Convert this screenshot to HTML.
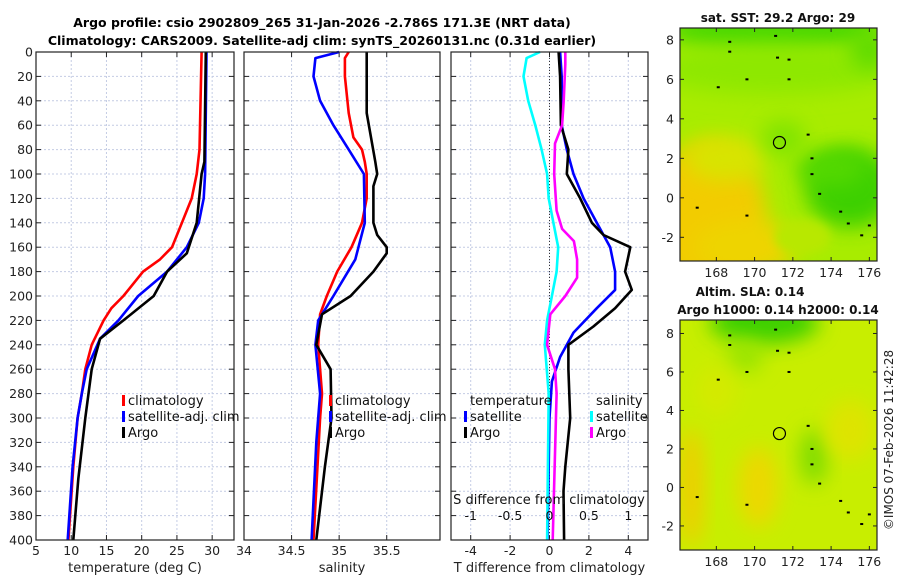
<!DOCTYPE html>
<html><head><meta charset="utf-8">
<style>
html,body{margin:0;padding:0;background:#fff;}
svg{display:block;font-family:"DejaVu Sans","Liberation Sans",sans-serif;}
</style></head>
<body>
<svg id="fig" width="900" height="580" viewBox="0 0 900 580" xmlns="http://www.w3.org/2000/svg">
<defs>
<filter id="blur8" x="-50%" y="-50%" width="200%" height="200%"><feGaussianBlur stdDeviation="10"/></filter>
<filter id="blur4" x="-50%" y="-50%" width="200%" height="200%"><feGaussianBlur stdDeviation="5"/></filter>
<clipPath id="clipA"><rect x="680" y="28" width="197" height="233"/></clipPath>
<clipPath id="clipB"><rect x="680" y="320" width="197" height="230"/></clipPath>
</defs>
<text x="322" y="27" text-anchor="middle" font-size="12.5" font-weight="bold">Argo profile: csio 2902809_265 31-Jan-2026 -2.786S 171.3E (NRT data)</text>
<text x="322" y="45" text-anchor="middle" font-size="12.5" font-weight="bold">Climatology: CARS2009. Satellite-adj clim: synTS_20260131.nc (0.31d earlier)</text>
<g id="plots"></g>
<g id="maps"></g>
<text transform="translate(893,440) rotate(-90)" text-anchor="middle" font-size="12" fill="#222">©IMOS 07-Feb-2026 11:42:28</text>
</svg>
<script>
// ---- data ----
const tClimD=[0,80,100,120,140,160,170,180,200,210,220,240,260,280,300,340,400];
const tClimV=[28.5,28.2,27.8,27.1,25.7,24.3,22.6,20.2,17.4,15.7,14.6,12.9,12.0,11.5,10.9,10.3,9.6];
const tSatD=[0,100,120,140,160,180,200,220,235,260,280,300,340,400];
const tSatV=[29.2,29.0,28.8,28.1,26.4,23.6,19.5,16.7,14.1,12.2,11.5,10.9,10.2,9.5];
const tArgoD=[0,90,100,140,165,180,200,220,235,260,300,350,400];
const tArgoV=[29.1,28.9,28.5,27.8,26.4,23.6,21.7,17.4,14.1,12.9,12.0,11.0,10.3];
const sClimD=[0,5,20,50,70,80,90,100,120,140,160,180,200,215,240,280,300,400];
const sClimV=[35.10,35.06,35.06,35.10,35.15,35.24,35.27,35.29,35.29,35.24,35.13,34.98,34.87,34.80,34.78,34.82,34.80,34.73];
const sSatD=[0,5,20,40,60,80,100,140,170,200,220,240,280,320,400];
const sSatV=[35.00,34.75,34.73,34.80,34.94,35.10,35.26,35.27,35.17,34.94,34.78,34.75,34.80,34.76,34.71];
const sArgoD=[0,50,90,100,110,140,150,160,165,180,200,215,240,260,300,340,400];
const sArgoV=[35.29,35.29,35.38,35.40,35.36,35.36,35.40,35.50,35.50,35.36,35.12,34.82,34.76,34.91,34.92,34.85,34.76];
const dTsatD=[0,20,60,80,100,120,140,160,180,195,210,230,250,270,300,400];
const dTsatV=[0.54,0.62,0.62,0.88,1.22,1.73,2.4,3.08,3.33,3.33,2.4,1.22,0.54,0.12,0,-0.1];
const dTargoD=[0,20,60,80,100,120,140,150,160,180,195,210,225,240,260,300,340,360,400];
const dTargoV=[0.46,0.54,0.58,0.96,0.88,1.56,2.15,2.74,4.1,3.84,4.18,3.33,2.23,0.96,0.96,1.05,0.8,0.71,0.74];
const dSsatD=[0,5,20,40,60,80,100,120,140,160,180,200,220,240,280,400];
const dSsatV=[-0.12,-0.29,-0.33,-0.27,-0.18,-0.1,-0.03,-0.01,0.05,0.11,0.09,0.03,-0.03,-0.06,-0.01,-0.03];
const dSargoD=[0,10,40,60,75,100,130,145,155,170,185,200,215,240,260,280,400];
const dSargoV=[0.2,0.2,0.18,0.16,0.07,0.06,0.09,0.16,0.31,0.35,0.35,0.2,0.01,-0.03,0.07,0.09,0.04];
const depthTicks=[0,20,40,60,80,100,120,140,160,180,200,220,240,260,280,300,320,340,360,380,400];
const tTicks=[5,10,15,20,25,30];
const sTicks=[34,34.5,35,35.5];
const dTTicks=[-4,-2,0,2,4];
const dSTicks=[-1,-0.5,0,0.5,1];
const lonTicks=[168,170,172,174,176];
const latTicks=[-2,0,2,4,6,8];

const NS='http://www.w3.org/2000/svg';
function mk(tag,attrs,parent,txt){const e=document.createElementNS(NS,tag);for(const k in attrs)e.setAttribute(k,attrs[k]);if(txt!==undefined)e.textContent=txt;parent.appendChild(e);return e;}
const plots=document.getElementById('plots');
const Y0=52,Y1=540;
function yD(d){return Y0+(d/400)*(Y1-Y0);}

function panel(name,x0,x1,xmin,xmax,ticks,labelFmt,xlabel,showY){
  const g=mk('g',{},plots);
  
  
  const xs=v=>x0+(v-xmin)/(xmax-xmin)*(x1-x0);
  depthTicks.forEach(d=>{mk('line',{x1:x0,x2:x1,y1:yD(d),y2:yD(d),stroke:'#c4cce4','stroke-width':1,'stroke-dasharray':'2,2'},g);});
  ticks.forEach(t=>{mk('line',{x1:xs(t),x2:xs(t),y1:Y0,y2:Y1,stroke:'#c4cce4','stroke-width':1,'stroke-dasharray':'2,2'},g);});
  depthTicks.forEach(d=>{mk('line',{x1:x0,x2:x0+5,y1:yD(d),y2:yD(d),stroke:'#222'},g);mk('line',{x1:x1-5,x2:x1,y1:yD(d),y2:yD(d),stroke:'#222'},g);
    if(showY){const t=mk('text',{x:x0-3,y:yD(d)+4.5,'text-anchor':'end','font-size':12.5,fill:'#222'},g,String(d));}});
  ticks.forEach(t=>{mk('line',{x1:xs(t),x2:xs(t),y1:Y1,y2:Y1-5,stroke:'#222'},g);mk('line',{x1:xs(t),x2:xs(t),y1:Y0,y2:Y0+5,stroke:'#222'},g);
    const tx=mk('text',{x:xs(t),y:Y1+15,'text-anchor':'middle','font-size':12.5,fill:'#222'},g,labelFmt(t));});
  const xl=mk('text',{x:(x0+x1)/2,y:Y1+32,'text-anchor':'middle','font-size':13,fill:'#222'},g,xlabel);
  
  
  return {g,xs};
}
function series(p,ds,vs,color,name){
  const pts=ds.map((d,i)=>p.xs(vs[i]).toFixed(1)+','+yD(d).toFixed(1)).join(' ');
  const l=mk('polyline',{points:pts,fill:'none',stroke:color,'stroke-width':2.6,'stroke-linejoin':'round'},p.g);
  
  
}
function frame(x0,x1){mk('rect',{x:x0,y:Y0,width:x1-x0,height:Y1-Y0,fill:'none',stroke:'#222','stroke-width':1.2},plots);}
function legend(x,y,color,label,name){
  const g=mk('g',{},plots);
  
  
  mk('rect',{x:x,y:y-10,width:3,height:11,fill:color},g);
  mk('text',{x:x+6,y:y,'font-size':13,fill:'#111'},g,label);
}

const p1=panel('temperature-panel',36,234,5,33.1,tTicks,String,'temperature (deg C)',true);
series(p1,tClimD,tClimV,'#ff0000','temp-climatology-line');
series(p1,tSatD,tSatV,'#0000ff','temp-satellite-line');
series(p1,tArgoD,tArgoV,'#000000','temp-argo-line');
frame(36,234);
legend(122,405,'#ff0000','climatology','legend-climatology');
legend(122,421,'#0000ff','satellite-adj. clim','legend-satellite-adj');
legend(122,437,'#000000','Argo','legend-argo');

const p2=panel('salinity-panel',244,440,34,36.06,sTicks,String,'salinity',false);
series(p2,sClimD,sClimV,'#ff0000','sal-climatology-line');
series(p2,sSatD,sSatV,'#0000ff','sal-satellite-line');
series(p2,sArgoD,sArgoV,'#000000','sal-argo-line');
frame(244,440);
legend(329,405,'#ff0000','climatology','legend-climatology-2');
legend(329,421,'#0000ff','satellite-adj. clim','legend-satellite-adj-2');
legend(329,437,'#000000','Argo','legend-argo-2');

const p3=panel('difference-panel',451,648,-5,5,dTTicks,String,'T difference from climatology',false);
const xsS=v=>p3.xs(v*4);
mk('line',{x1:p3.xs(0),x2:p3.xs(0),y1:Y0,y2:Y1,stroke:'#333','stroke-width':1,'stroke-dasharray':'1,2'},p3.g);
series(p3,dTsatD,dTsatV,'#0000ff','dT-satellite-line');
series(p3,dTargoD,dTargoV,'#000000','dT-argo-line');
const p3s={g:p3.g,xs:xsS};
series(p3s,dSsatD,dSsatV,'#00ffff','dS-satellite-line');
series(p3s,dSargoD,dSargoV,'#ff00ff','dS-argo-line');
frame(451,648);
{const t=mk('text',{x:549,y:504,'text-anchor':'middle','font-size':13,fill:'#111'},plots,'S difference from climatology');}
dSTicks.forEach(v=>{const t=mk('text',{x:xsS(v),y:520,'text-anchor':'middle','font-size':12.5,fill:'#111'},plots,String(v));});
{const t=mk('text',{x:470,y:405,'font-size':13,fill:'#111'},plots,'temperature');}
{const t=mk('text',{x:596,y:405,'font-size':13,fill:'#111'},plots,'salinity');}
legend(464,421,'#0000ff','satellite','legend-t-satellite');
legend(464,437,'#000000','Argo','legend-t-argo');
legend(590,421,'#00ffff','satellite','legend-s-satellite');
legend(590,437,'#ff00ff','Argo','legend-s-argo');

// ---- maps ----
const maps=document.getElementById('maps');
const coastA=[[168.7,7.4],[169.6,6.0],[171.2,7.1],[171.8,7.0],[171.8,6.0],[172.8,3.2],[173.0,2.0],[173.0,1.2],[173.4,0.2],[174.5,-0.7],[174.9,-1.3],[175.6,-1.9],[176,-1.4],[168.1,5.6],[168.7,7.9],[167,-0.5],[169.6,-0.9],[171.1,8.2]];
function mapPanel(name,x0,y0,w,h,lat0,lat1,clip,blobs,base){
  const g=mk('g',{},maps);
  
  
  const lon0=166.1,lon1=176.4;
  const X=v=>x0+(v-lon0)/(lon1-lon0)*w, Y=v=>y0+(lat1-v)/(lat1-lat0)*h;
  const inner=mk('g',{'clip-path':'url(#'+clip+')'},g);
  mk('rect',{x:x0,y:y0,width:w,height:h,fill:base},inner);
  blobs.forEach(b=>mk('ellipse',{cx:X(b[0]),cy:Y(b[1]),rx:b[2],ry:b[3],fill:b[4],filter:'url(#'+(b[5]||'blur8')+')'},inner));
  coastA.forEach(c=>mk('rect',{x:X(c[0])-1.5,y:Y(c[1])-1,width:3,height:2,fill:'#000'},inner));
  const c=mk('circle',{cx:X(171.3),cy:Y(2.8),r:6,fill:'none',stroke:'#000','stroke-width':1.2},g);
  
  
  mk('rect',{x:x0,y:y0,width:w,height:h,fill:'none',stroke:'#222','stroke-width':1.2},g);
  lonTicks.forEach(t=>{mk('line',{x1:X(t),x2:X(t),y1:y0+h,y2:y0+h-4,stroke:'#222'},g);mk('line',{x1:X(t),x2:X(t),y1:y0,y2:y0+4,stroke:'#222'},g);
    const tx=mk('text',{x:X(t),y:y0+h+16,'text-anchor':'middle','font-size':12.5,fill:'#222'},g,String(t));});
  latTicks.forEach(t=>{mk('line',{x1:x0,x2:x0+4,y1:Y(t),y2:Y(t),stroke:'#222'},g);mk('line',{x1:x0+w-4,x2:x0+w,y1:Y(t),y2:Y(t),stroke:'#222'},g);
    const tx=mk('text',{x:x0-6,y:Y(t)+4.5,'text-anchor':'end','font-size':12.5,fill:'#222'},g,String(t));});
}
mapPanel('sst-map',680,28,197,233,-3.2,8.6,'clipA',[
  [171,8.5,110,22,'#4cd800'],[171,6.5,120,25,'#8ee800'],
  [167.5,-1.0,60,75,'#f2cc00'],[169.5,-2.5,50,28,'#eed400'],
  [168.5,2.0,40,22,'#d8e400'],
  [175,0.5,45,40,'#3ed000'],[174,1.5,35,18,'#52d800'],[172.5,-2.0,28,18,'#b8e800','blur4'],
  [171.5,3.0,22,18,'#80e400'],[176,7.5,20,20,'#60dc00']
],'#a8ec00');
mapPanel('sla-map',680,320,197,230,-3.25,8.7,'clipB',[
  [170.5,8.6,55,22,'#3cd000'],[169.5,6.8,18,16,'#98e400'],
  [173.1,1.6,14,28,'#7edc00'],
  [166.7,0.0,12,60,'#f0cc00'],[170.2,0.0,20,40,'#ecd800'],[175,3,25,30,'#dee400'],
  [168,5,20,25,'#d4ea00']
],'#c8ee00');
{const t=mk('text',{x:778,y:22,'text-anchor':'middle','font-size':12,'font-weight':'bold',fill:'#111'},maps,'sat. SST: 29.2 Argo: 29');}
{const t=mk('text',{x:750,y:296,'text-anchor':'middle','font-size':12,'font-weight':'bold',fill:'#111'},maps,'Altim. SLA: 0.14');}
{const t=mk('text',{x:778,y:314,'text-anchor':'middle','font-size':12,'font-weight':'bold',fill:'#111'},maps,'Argo h1000: 0.14 h2000: 0.14');}
</script>
</body></html>
